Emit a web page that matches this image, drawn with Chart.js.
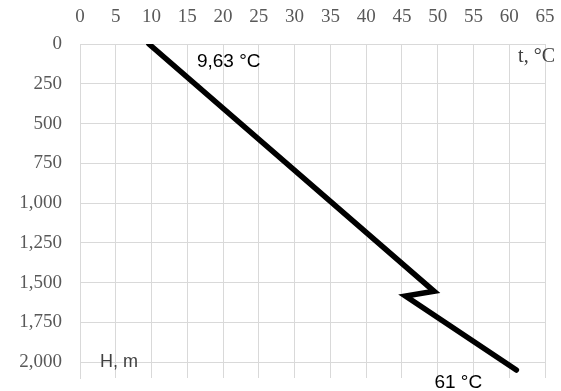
<!DOCTYPE html>
<html>
<head>
<meta charset="utf-8">
<script src="https://cdn.jsdelivr.net/npm/chart.js@4/dist/chart.umd.min.js"></script>
<style>
  html, body { margin: 0; padding: 0; background: #ffffff; }
  #wrap { width: 561px; height: 391px; }
</style>
</head>
<body>
<div id="wrap"><canvas id="chart" width="561" height="391"></canvas></div>
<script>
// Temperature profile along depth: t (°C) vs H (m)
const temperature = [9.63, 49.5, 45.5, 61];
const depth = [0, 1555, 1585, 2050];
const tempTicks = [0, 5, 10, 15, 20, 25, 30, 35, 40, 45, 50, 55, 60, 65];
const depthTicks = [0, 250, 500, 750, 1000, 1250, 1500, 1750, 2000];
const topLabel = '9,63 °C';
const bottomLabel = '61 °C';
const xTitle = 't, °C';
const yTitle = 'H, m';

const points = temperature.map((t, i) => ({ x: t, y: depth[i] }));

const gridColor = '#d9d9d9';
const tickColor = '#595959';
const serif = '"Liberation Serif", "Times New Roman", serif';
const sans = '"Liberation Sans", Arial, sans-serif';

// Text annotations placed relative to the chart area and data points
const annotations = {
  id: 'annotations',
  afterDatasetsDraw(chart) {
    const { ctx, chartArea, scales } = chart;
    const x = scales.x, y = scales.y;
    ctx.save();
    ctx.textBaseline = 'middle';

    ctx.font = '19px ' + sans;
    ctx.fillStyle = '#000000';
    ctx.textAlign = 'left';
    ctx.fillText(topLabel, x.getPixelForValue(temperature[0]) + 48, y.getPixelForValue(depth[0]) + 18);
    const last = temperature.length - 1;
    ctx.fillText(bottomLabel, x.getPixelForValue(temperature[last]) - 82, y.getPixelForValue(depth[last]) + 13);

    ctx.font = '18px ' + sans;
    ctx.fillStyle = '#404040';
    ctx.fillText(yTitle, chartArea.left + 20, y.getPixelForValue(2000));

    ctx.font = '20px ' + serif;
    ctx.textAlign = 'right';
    ctx.fillText(xTitle, chartArea.right + 10, chartArea.top + 13);
    ctx.restore();
  }
};

new Chart(document.getElementById('chart'), {
  type: 'line',
  data: {
    datasets: [{
      data: points,
      borderColor: '#000000',
      borderWidth: 5.5,
      borderCapStyle: 'round',
      borderJoinStyle: 'miter',
      pointRadius: 0,
      tension: 0,
      fill: false,
      clip: 0
    }]
  },
  options: {
    responsive: false,
    animation: false,
    events: [],
    layout: { padding: { left: 0, right: 16, top: 0, bottom: 13 } },
    plugins: { legend: { display: false }, tooltip: { enabled: false } },
    scales: {
      x: {
        type: 'linear',
        position: 'top',
        min: 0,
        max: 65,
        afterBuildTicks(scale) { scale.ticks = tempTicks.map(v => ({ value: v })); },
        afterFit(scale) {
          scale.height = 44;
          scale.paddingLeft = 0; scale.paddingRight = 0;
          scale.paddingTop = 0; scale.paddingBottom = 0;
        },
        ticks: {
          color: tickColor,
          font: { family: serif, size: 19 },
          padding: 16,
          maxRotation: 0,
          autoSkip: false,
          callback: v => String(v)
        },
        grid: { color: gridColor, lineWidth: 1, drawTicks: false },
        border: { color: gridColor, width: 1 }
      },
      y: {
        type: 'linear',
        reverse: true,
        min: 0,
        max: 2100,
        afterBuildTicks(scale) { scale.ticks = depthTicks.map(v => ({ value: v })); },
        afterFit(scale) {
          scale.width = 80;
          scale.paddingLeft = 0; scale.paddingRight = 0;
          scale.paddingTop = 0; scale.paddingBottom = 0;
        },
        ticks: {
          color: tickColor,
          font: { family: serif, size: 19 },
          padding: 18,
          autoSkip: false,
          callback: v => v.toLocaleString('en-US')
        },
        grid: { color: gridColor, lineWidth: 1, drawTicks: false },
        border: { color: gridColor, width: 1 }
      }
    }
  },
  plugins: [annotations]
});
</script>
</body>
</html>
